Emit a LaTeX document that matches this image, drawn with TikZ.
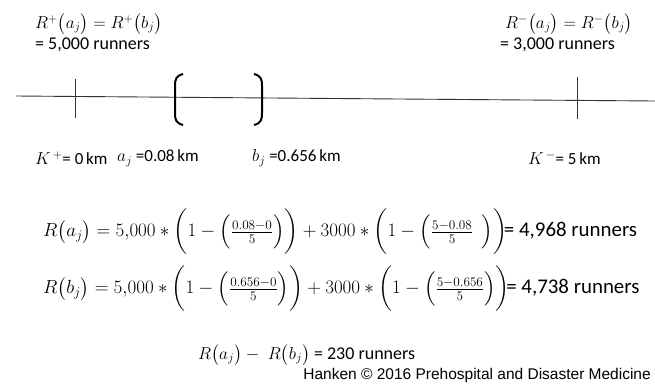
\documentclass[tikz,border=0pt]{standalone}
\usepackage{amsmath}
\usepackage{fontspec}
\setmainfont{Carlito}
\newfontfamily\credfont{Liberation Sans}
\begin{document}
\begin{tikzpicture}[x=1pt,y=-1pt,
  lbl/.style={inner sep=0pt,font=\fontsize{18}{21}\selectfont},
  axl/.style={inner sep=0pt,font=\fontsize{17}{20}\selectfont},
  eqn/.style={inner sep=0pt,font=\fontsize{18}{22}\selectfont,scale=1.1,transform shape},
  axis/.style={line width=0.9pt,black!80},
  brk/.style={line width=2pt}]
\useasboundingbox (0,0) rectangle (655,391);
\newcommand{\eqtxt}[1]{{\fontsize{19}{22}\selectfont #1}}
% top labels
\node[lbl,anchor=west] (rp) at (35,24) {$R^{+}\bigl(a_j\bigr) = R^{+}\bigl(b_j\bigr)$};
\node[lbl,anchor=west] (rpv) at (35,45) {= 5,000 runners};
\node[lbl,anchor=west] (rm) at (505,24) {$R^{-}\bigl(a_j\bigr) = R^{-}\bigl(b_j\bigr)$};
\node[lbl,anchor=west] (rmv) at (500,45) {= 3,000 runners};
% axis
\coordinate (l0) at (16,96);
\coordinate (l1) at (655,101);
\draw[axis] (l0) -- (l1);
\coordinate (t0a) at (75,79); \coordinate (t0b) at (75,118);
\draw[axis] (t0a) -- (t0b);
\coordinate (t1a) at (577,77); \coordinate (t1b) at (577,119);
\draw[axis] (t1a) -- (t1b);
% brackets
\coordinate (ba0) at (183,74); \coordinate (ba1) at (183,125);
\draw[brk] (ba0) .. controls (176,76) and (175,79) .. (175,86) -- (175,113) .. controls (175,120) and (176,123) .. (ba1);
\coordinate (bb0) at (254,74); \coordinate (bb1) at (254,125);
\draw[brk] (bb0) .. controls (261,76) and (262,79) .. (262,86) -- (262,113) .. controls (262,120) and (261,123) .. (bb1);
% axis labels
\node[axl,anchor=west] (kp) at (35,158) {$K^{\,+}$= 0\,km};
\node[axl,anchor=west] (aj) at (117,158) {$a_j$ =0.08\,km};
\node[axl,anchor=west] (bj) at (252,158) {$b_j$ =0.656\,km};
\node[axl,anchor=west] (km) at (528,158) {$K^{\,-}$= 5\,km};
% equations
\node[eqn,anchor=west] (e1) at (43,232) {$R\bigl(a_j\bigr) = 5{,}000 \ast \biggl(1 - \Bigl(\tfrac{0.08-0}{5}\Bigr)\biggr) + 3000 \ast \biggl(1 - \Bigl(\tfrac{5-0.08}{5}\phantom{0}\Bigr)\biggr)$\!\eqtxt{= 4,968 runners}};
\node[eqn,anchor=west] (e2) at (43,289) {$R\bigl(b_j\bigr) = 5{,}000 \ast \biggl(1 - \Bigl(\tfrac{0.656-0}{5}\Bigr)\biggr) + 3000 \ast \biggl(1 - \Bigl(\tfrac{5-0.656}{5}\Bigr)\biggr)$\!\eqtxt{= 4,738 runners}};
\node[lbl,anchor=west] (diff) at (198,355) {$R\bigl(a_j\bigr) -\; R\bigl(b_j\bigr)$ = 230 runners};
\node[inner sep=0pt,anchor=east,font=\credfont\fontsize{15.5}{18}\selectfont] (cred) at (651,375) {Hanken \textcopyright\ 2016 Prehospital and Disaster Medicine};
\end{tikzpicture}
\end{document}
